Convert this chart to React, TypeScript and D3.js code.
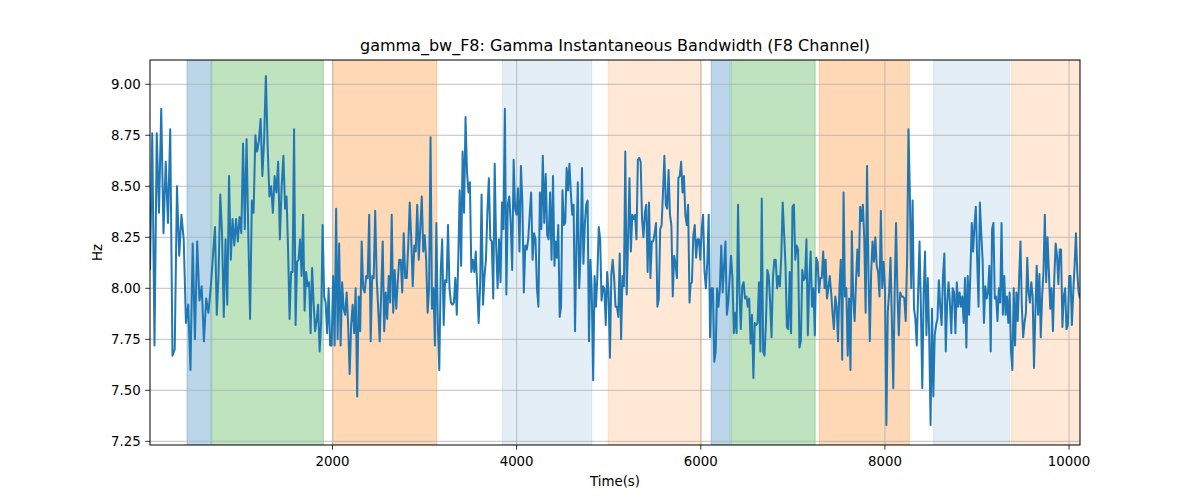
import React from "react";
import * as d3 from "d3";

// gamma bandwidth readings (Hz), one array per stretch of the recording
const seg1a = [8.09, 8.76, 7.72, 8.76, 8.37, 8.88, 8.27, 8.62, 8.32, 8.78, 7.67, 7.70, 8.50, 8.16, 8.36, 8.24, 7.83, 7.92, 7.60, 8.22, 7.75, 8.23, 7.94, 8.01, 7.74, 7.95, 7.88, 8.00];
const seg1b = [8.30, 7.87, 8.06, 8.46, 8.27, 7.86, 8.24, 7.92, 8.55, 8.14, 8.34, 8.21, 8.34, 8.23, 8.35, 8.27, 8.71, 8.29, 8.73, 8.26, 7.85, 8.43, 8.37, 8.75, 8.67, 8.72, 8.83, 8.55, 8.73, 9.04, 8.70, 8.45, 8.50, 8.37, 8.55, 8.47, 8.62, 8.24, 8.50, 8.65];
const seg2 = [
  8.39, 8.45, 8.19, 7.85, 8.08, 8.08, 8.78, 7.82, 8.13, 8.14,
  8.24, 8.06, 8.36, 7.89, 8.08, 8.01, 8.03, 7.78, 8.10, 7.93,
  7.79, 7.84, 7.92, 7.69, 7.83, 8.31, 7.96, 7.93, 7.78, 8.00,
  7.72, 7.72, 8.06, 7.72, 8.39, 7.75, 8.22, 7.72, 8.03, 7.90,
  7.87, 7.98, 7.82, 7.58, 7.82, 7.92, 7.78, 8.00, 7.47, 7.96,
  7.79, 8.23, 8.00, 7.98, 8.06, 8.05, 8.36, 7.74, 8.06, 8.05,
  8.38, 8.05, 7.90, 7.74, 7.98, 8.23, 7.79, 7.98, 7.85, 8.06,
  7.93, 8.36, 7.88, 8.09, 7.90, 8.03, 8.14, 8.14, 7.98, 8.27,
  8.05, 8.05, 8.21, 8.42, 8.24, 8.01, 8.21, 8.18, 8.41, 8.14,
];
const seg3 = [
  8.45, 8.18, 8.26, 8.14, 7.88, 8.00, 8.74, 7.90, 8.00, 7.72,
  8.32, 7.82, 7.60, 8.09, 8.24, 7.82, 8.04, 8.03, 8.31, 8.00,
  7.93, 7.92, 7.93, 8.05, 7.87, 8.13, 8.48, 8.11, 8.67, 8.37,
  8.84, 8.57, 8.47, 8.52, 8.08, 8.14, 8.08, 8.18, 8.01, 7.83,
  8.01, 8.46, 7.92, 8.06, 8.14, 8.37, 8.54, 8.24, 8.23, 7.95,
  8.61, 8.21, 8.00, 8.24, 8.03, 8.42, 8.29, 8.88, 7.97, 8.41,
  8.45, 8.32, 8.09, 8.63, 8.39, 8.36, 8.49, 8.18, 8.60, 8.42,
  7.98, 8.21, 8.19, 8.24, 8.36, 8.47, 8.14, 8.27, 8.24, 8.00,
  7.91, 8.47, 8.29, 8.65, 8.32, 8.56, 8.26, 8.24, 8.47, 8.14,
  8.55, 8.11,
];
const seg4 = [
  8.23, 8.15, 8.31, 7.86, 7.91, 8.48, 8.31, 8.32, 8.59, 8.48,
  8.61, 8.47, 8.36, 8.41, 7.79, 8.21, 8.52, 8.00, 8.18, 8.59,
  8.12, 8.31, 8.41, 8.43, 7.74, 8.14, 7.98, 7.55, 8.06, 7.91,
  8.06, 8.30, 8.24, 7.94, 8.01, 8.00, 7.82, 8.08, 7.98, 7.66,
  8.07, 8.14, 8.05, 7.91, 7.91, 7.86, 8.17, 7.75, 8.06, 8.01,
  8.67, 7.97, 8.24, 8.54, 8.18, 8.36, 8.34, 8.36, 8.24, 8.63,
  8.64, 8.62, 8.34, 8.25, 8.37, 8.41, 8.08, 8.42, 8.05, 8.23,
  8.23, 8.27, 8.32, 7.91, 7.95, 8.29, 8.31, 8.47, 8.65, 8.41,
  8.39, 8.58, 8.36, 8.31, 7.96, 8.16, 8.12, 8.05, 8.54, 8.55,
  8.62, 8.47, 8.55, 8.36, 8.31, 8.41, 7.93,
];
const seg5 = [
  8.02, 8.03, 8.26, 8.31, 8.15, 8.24, 8.24, 8.14, 8.29, 8.36,
  8.08, 8.00, 8.13, 8.36, 7.76, 8.00, 8.00, 7.64, 7.69, 8.00,
  7.91, 8.00, 8.21, 7.98, 8.11, 8.23, 7.87, 7.93, 8.05, 8.16,
  8.05, 7.78, 7.88, 7.78, 8.41, 7.98, 7.80, 8.01, 8.03, 7.95,
  7.96, 7.91, 7.95, 7.73, 7.87, 7.56, 7.83, 7.82, 7.83, 8.03,
  7.69, 8.44, 7.69, 7.67, 7.83, 8.09, 8.06, 7.93, 7.76, 8.05,
  8.14, 8.14, 8.00, 8.06, 8.01, 8.16, 8.42, 8.27, 8.11, 7.81,
  7.80, 8.08, 7.78, 8.40, 8.41, 8.14, 8.21, 8.19, 7.71, 7.74,
  8.09, 8.04, 8.05, 8.24, 7.77, 8.03, 8.18, 7.91, 8.00, 7.77,
  8.15, 8.13, 7.98, 8.05, 8.05, 8.18, 8.00,
];
const seg6 = [
  8.14, 7.95, 8.00, 8.06, 7.98, 7.88, 7.80, 7.96, 7.91, 7.74,
  8.00, 8.14, 7.65, 8.47, 7.96, 8.00, 7.67, 7.95, 7.60, 8.28,
  7.95, 7.84, 8.03, 8.19, 8.06, 8.40, 8.33, 8.41, 8.24, 7.88,
  8.60, 8.08, 7.74, 8.08, 8.23, 8.13, 8.25, 8.11, 8.08, 7.96,
  8.38, 8.00, 8.13, 8.00, 7.33, 7.88, 7.98, 8.15, 7.83, 7.51,
  7.98, 8.32, 7.98, 7.77, 7.98, 7.96, 7.96, 7.95, 7.84, 8.14,
  8.78, 8.47, 8.00, 8.43, 7.90, 7.85, 7.72, 7.98, 8.23, 7.90,
  7.51, 7.98, 8.18, 7.77, 8.05, 7.77, 7.33, 7.90, 7.47, 7.77,
  7.82, 7.85, 8.04, 7.91, 7.82, 8.06, 8.17, 7.69, 7.93, 8.03,
  7.93, 7.78, 8.00, 7.98, 7.78, 8.03, 7.91, 7.98,
];
const seg7 = [
  7.91, 7.96, 7.83, 8.05, 7.71, 8.06, 7.87, 8.08, 8.32, 8.18,
  8.31, 8.40, 8.14, 7.91, 8.42, 8.27, 8.14, 7.83, 8.01, 7.95,
  7.98, 8.11, 7.69, 8.29, 8.32, 7.95, 7.96, 7.84, 8.00, 7.93,
  8.32, 7.87, 8.06, 7.87, 7.96, 7.83, 7.98, 7.69, 7.60, 8.00,
  7.72, 7.98, 7.84, 8.05, 8.23, 7.91, 7.76, 7.83, 7.88, 8.15,
  7.98, 7.93, 8.03, 7.96, 7.61, 7.88, 8.11, 7.87, 8.07, 7.76,
  7.96, 8.08, 8.36, 8.03, 8.25, 8.08, 7.90, 8.00, 7.79, 8.05,
  8.22, 8.16, 8.02, 8.19, 8.19, 7.81, 7.96, 8.00, 7.80, 7.82,
  8.06, 8.06, 7.82, 7.98, 8.11, 8.27, 8.08, 7.98, 7.95,
];

const segments = [seg1a, seg1b, seg2, seg3, seg4, seg5, seg6, seg7];
// time (s) of the first and last sample in each stretch
const segmentStart = [18, 724, 1485, 2970, 4422, 5889, 7356, 8826];
const segmentEnd = [677, 1467, 2937, 4411, 5878, 7345, 8811, 10119];

// shaded state bands
const bandStart = [420, 688, 2010, 3846, 4994, 6113, 6331, 7287, 8529, 9373];
const bandEnd = [681, 1901, 3133, 4817, 6012, 6320, 7243, 8265, 9354, 10119];
const bandKind = ["blue", "green", "orange", "blueLight", "orangeLight", "blue", "green", "orange", "blueLight", "orangeLight"];

const xTicks = [2000, 4000, 6000, 8000, 10000];
const yTicks = [7.25, 7.5, 7.75, 8.0, 8.25, 8.5, 8.75, 9.0];

const bandStyle: Record<string, { color: string; alpha: number }> = {
  blue: { color: "#1f77b4", alpha: 0.3 },
  green: { color: "#2ca02c", alpha: 0.3 },
  orange: { color: "#ff7f0e", alpha: 0.3 },
  blueLight: { color: "#1f77b4", alpha: 0.12 },
  orangeLight: { color: "#ff7f0e", alpha: 0.17 },
};

const W = 1200;
const H = 500;
const left = 150;
const right = 1080;
const top = 60;
const bottom = 445;
const FONT = "'DejaVu Sans', sans-serif";

export default function App() {
  const points: [number, number][] = [];
  segments.forEach((vals, s) => {
    const step = (segmentEnd[s] - segmentStart[s]) / (vals.length - 1);
    vals.forEach((v, i) => points.push([segmentStart[s] + i * step, v]));
  });

  const x = d3.scaleLinear().domain([18, 10119]).range([left, right]);
  const y = d3.scaleLinear().domain([7.232, 9.119]).range([bottom, top]);

  const path = d3
    .line<[number, number]>()
    .x((d) => x(d[0]))
    .y((d) => y(d[1]))(points);

  const fmt = d3.format(".2f");

  return (
    <svg
      width={W}
      height={H}
      style={{ position: "absolute", left: 0, top: 0, background: "#fff" }}
      fontFamily={FONT}
    >
      <defs>
        <clipPath id="plot">
          <rect x={left} y={top} width={right - left} height={bottom - top} />
        </clipPath>
      </defs>
      <rect x={0} y={0} width={W} height={H} fill="#fff" />

      <g clipPath="url(#plot)">
        {bandStart.map((b, i) => {
          const st = bandStyle[bandKind[i]];
          return (
            <rect
              key={i}
              x={x(b)}
              y={top}
              width={x(bandEnd[i]) - x(b)}
              height={bottom - top}
              fill={st.color}
              fillOpacity={st.alpha}
              stroke={st.color}
              strokeOpacity={st.alpha}
              strokeWidth={1}
            />
          );
        })}
      </g>

      {/* grid */}
      {xTicks.map((t) => (
        <line key={"gx" + t} x1={x(t)} x2={x(t)} y1={top} y2={bottom} stroke="#b0b0b0" strokeWidth={0.8} />
      ))}
      {yTicks.map((t) => (
        <line key={"gy" + t} x1={left} x2={right} y1={y(t)} y2={y(t)} stroke="#b0b0b0" strokeWidth={0.8} />
      ))}

      <path
        d={path ?? ""}
        fill="none"
        stroke="#1f77b4"
        strokeWidth={2}
        strokeLinejoin="round"
        clipPath="url(#plot)"
      />

      {/* spines */}
      <rect x={left} y={top} width={right - left} height={bottom - top} fill="none" stroke="#000" strokeWidth={1} />

      {/* x axis */}
      {xTicks.map((t) => (
        <g key={"tx" + t}>
          <line x1={x(t)} x2={x(t)} y1={bottom} y2={bottom + 4.7} stroke="#000" strokeWidth={0.8} />
          <text x={x(t)} y={466} fontSize={13.33} textAnchor="middle" fill="#000">
            {t}
          </text>
        </g>
      ))}

      {/* y axis */}
      {yTicks.map((t) => (
        <g key={"ty" + t}>
          <line x1={left - 4.7} x2={left} y1={y(t)} y2={y(t)} stroke="#000" strokeWidth={0.8} />
          <text x={140.7} y={y(t) + 4.8} fontSize={13.33} textAnchor="end" fill="#000">
            {fmt(t)}
          </text>
        </g>
      ))}

      <text x={(left + right) / 2} y={51} fontSize={16} textAnchor="middle" fill="#000">
        gamma_bw_F8: Gamma Instantaneous Bandwidth (F8 Channel)
      </text>
      <text x={(left + right) / 2} y={486} fontSize={13.33} textAnchor="middle" fill="#000">
        Time(s)
      </text>
      <text
        transform={`translate(101.5, ${(top + bottom) / 2}) rotate(-90)`}
        fontSize={13.33}
        textAnchor="middle"
        fill="#000"
      >
        Hz
      </text>
    </svg>
  );
}
